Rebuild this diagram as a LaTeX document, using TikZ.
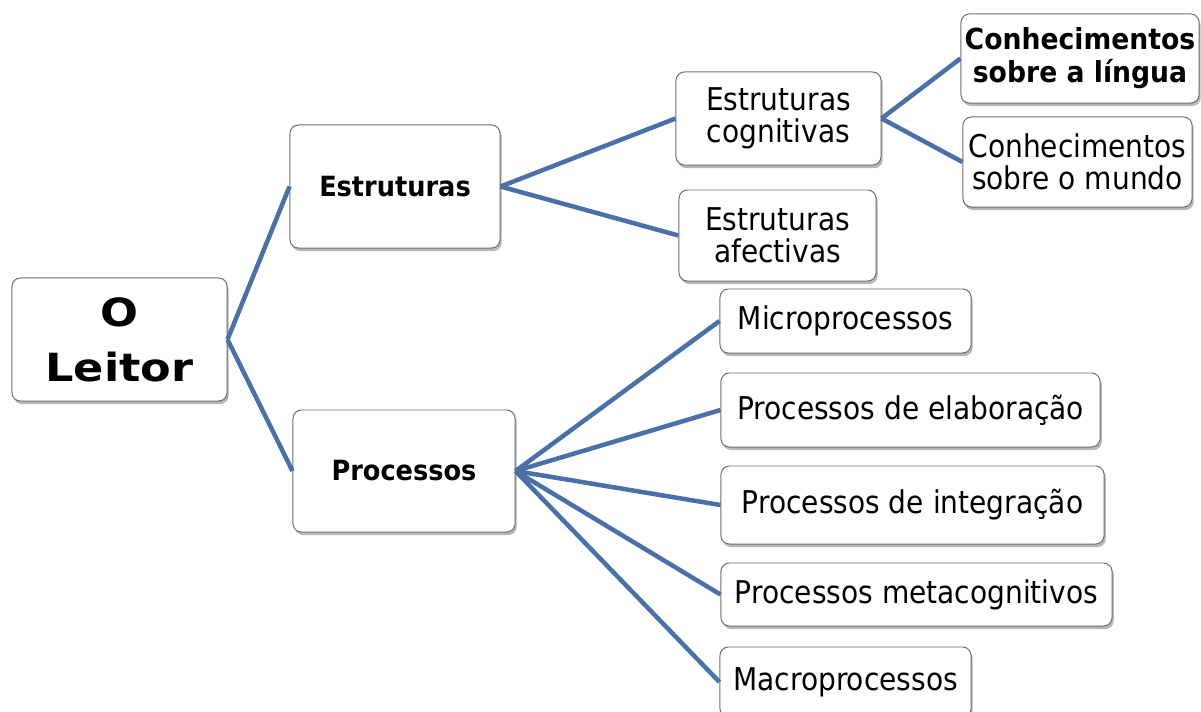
\documentclass[tikz,border=0pt]{standalone}
\usepackage{fontspec}
\setmainfont{DejaVu Sans}[FakeStretch=0.92]
\newfontfamily\regfont{DejaVu Sans}[FakeStretch=0.895]
\newfontfamily\leitorfont{DejaVu Sans}[FakeStretch=1.15]
\usetikzlibrary{shadows}
\definecolor{linkblue}{RGB}{74,112,168}
\definecolor{boxborder}{RGB}{110,110,110}
\tikzset{
  box/.style={draw=boxborder, line width=0.7pt, fill=white, rounded corners=6pt,
    align=center, inner sep=0pt,
    drop shadow={shadow xshift=1.2pt, shadow yshift=-2.2pt, opacity=0.4, fill=black!70}},
  link/.style={draw=linkblue, line width=3.2pt},
  regtext/.style={font=\regfont\fontsize{22.3}{22.7}\selectfont},
  boldtext/.style={font=\fontsize{19.8}{22}\selectfont\bfseries},
  boldtwo/.style={font=\fontsize{20.6}{23.4}\selectfont\bfseries},
  roottext/.style={font=\leitorfont\fontsize{27.6}{39}\selectfont\bfseries},
}
\begin{document}
\begin{tikzpicture}[x=0.025cm, y=-0.025cm]
\clip (0,0) rectangle (1201,711);
\fill[white] (0,0) rectangle (1201,711);

\node[box, roottext, minimum width=5.375cm, minimum height=3.075cm] (leitor) at (119.5,339.5) {O\\Leitor};
\node[box, boldtext, minimum width=5.25cm, minimum height=3.075cm] (estr) at (395,186.5) {Estruturas};
\node[box, boldtext, minimum width=5.55cm, minimum height=3.05cm] (proc) at (404,471) {Processos};

\node[box, regtext, minimum width=5.125cm, minimum height=2.325cm] (cogn) at (778.5,118.5) {Estruturas\\cognitivas};
\node[box, regtext, minimum width=4.925cm, minimum height=2.275cm] (afet) at (777.5,235.5) {Estruturas\\afectivas};

\node[box, boldtwo, minimum width=5.95cm, minimum height=2.225cm] (lingua) at (1080,58.5) {Conhecimentos\\sobre a língua};
\node[box, regtext, minimum width=5.725cm, minimum height=2.25cm] (mundo) at (1077.5,162) {Conhecimentos\\sobre o mundo};

\node[box, regtext, minimum width=6.275cm, minimum height=1.6cm] (micro) at (845.5,321) {Microprocessos};
\node[box, regtext, minimum width=9.475cm, minimum height=1.85cm] (elab) at (910.5,410) {Processos de elaboração};
\node[box, regtext, minimum width=9.575cm, minimum height=1.95cm] (integ) at (912.5,505) {Processos de integração};
\node[box, regtext, minimum width=9.775cm, minimum height=1.575cm] (meta) at (916.5,594.5) {Processos metacognitivos};
\node[box, regtext, minimum width=6.275cm, minimum height=1.75cm] (macro) at (845.5,682) {Macroprocessos};

\draw[link] (leitor.east) -- (estr.west);
\draw[link] (leitor.east) -- (proc.west);
\draw[link] (estr.east) -- (cogn.west);
\draw[link] (estr.east) -- (afet.west);
\draw[link] (cogn.east) -- (lingua.west);
\draw[link] (cogn.east) -- (mundo.west);
\draw[link] (proc.east) -- (micro.west);
\draw[link] (proc.east) -- (elab.west);
\draw[link] (proc.east) -- (integ.west);
\draw[link] (proc.east) -- (meta.west);
\draw[link] (proc.east) -- (macro.west);
\end{tikzpicture}
\end{document}
